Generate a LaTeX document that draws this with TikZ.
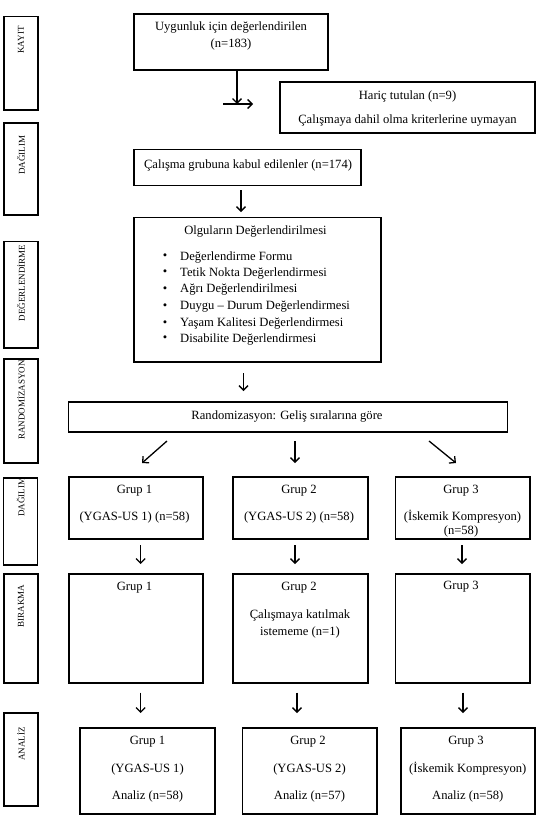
\documentclass[tikz,border=0pt]{standalone}
\usepackage{fontspec}
\setmainfont{Liberation Serif}
\usetikzlibrary{arrows.meta}
\begin{document}
\begin{tikzpicture}[x=1pt,y=-1pt,
  box/.style={draw=black,line width=1.8pt,inner sep=0pt},
  sidebox/.style={draw=black,line width=1.8pt,inner sep=0pt,minimum width=34pt},
  side/.style={rotate=90,font=\fontsize{9}{10}\selectfont,inner sep=0pt},
  txt/.style={font=\fontsize{12.6}{14}\selectfont,inner sep=0pt},
  arr/.style={line width=1.3pt,-{Straight Barb[length=4.5pt,width=9pt]}}]
\useasboundingbox[fill=white] (0,0) rectangle (537,822);

% side boxes
\node[sidebox,minimum height=93.5pt] (sK) at (21,63.25) {};
\node[sidebox,minimum height=92pt] (sD1) at (21,169) {};
\node[sidebox,minimum height=106.5pt] (sDe) at (21,294.75) {};
\node[sidebox,minimum height=104.4pt] (sR) at (21,410.8) {};
\node[sidebox,minimum height=87.4pt] (sD2) at (20.5,521.3) {};
\node[sidebox,minimum height=109pt] (sB) at (21,628.5) {};
\node[sidebox,minimum height=93pt] (sA) at (21,759.5) {};
\node[side] (lK) at (21,40) {KAYIT};
\node[side] (lD1) at (21,155) {DAĞILIM};
\node[side] (lDe) at (21,283) {DEĞERLENDİRME};
\node[side] (lR) at (21,400) {RANDOMİZASYON};
\node[side] (lD2) at (20.5,497) {DAĞILIM};
\node[side] (lB) at (21,606) {BIRAKMA};
\node[side] (lA) at (21,744) {ANALİZ};

% main boxes
\node[box,minimum width=194pt,minimum height=56pt] (b1) at (231,42) {};
\node[txt] (t1a) at (231,27.4) {Uygunluk için değerlendirilen};
\node[txt] (t1b) at (231,44.6) {(n=183)};

\node[box,minimum width=255pt,minimum height=51pt] (ex) at (407.5,107.5) {};
\node[txt] (te1) at (407.5,96) {Hariç tutulan (n=9)};
\node[txt] (te2) at (407.5,120) {Çalışmaya dahil olma kriterlerine uymayan};

\node[box,minimum width=227pt,minimum height=36pt] (acc) at (247.5,167.5) {};
\node[txt] (tacc) at (248,165) {Çalışma grubuna kabul edilenler (n=174)};

\node[box,minimum width=247pt,minimum height=144.5pt] (olg) at (257.5,289.75) {};
\node[txt] (tol) at (255.5,231) {Olguların Değerlendirilmesi};
\foreach \yy/\tt [count=\i] in {257/Değerlendirme Formu,273/Tetik Nokta Değerlendirmesi,289.5/Ağrı Değerlendirilmesi,306.5/Duygu – Durum Değerlendirmesi,323.5/Yaşam Kalitesi Değerlendirmesi,339/Disabilite Değerlendirmesi}{
  \node[txt,anchor=center] (bul\i) at (165,\yy) {•};
  \node[txt,anchor=west] (it\i) at (180,\yy) {\tt};
}

\node[box,minimum width=439pt,minimum height=30pt] (rnd) at (288,417) {};
\node[txt] (trnd) at (287,416) {Randomizasyon: Geliş sıralarına göre};

% group boxes, allocation
\node[box,minimum width=134.4pt,minimum height=62pt] (g1a) at (135.8,508) {};
\node[box,minimum width=135pt,minimum height=62pt] (g2a) at (300.5,508) {};
\node[box,minimum width=134.5pt,minimum height=62pt] (g3a) at (462.75,508) {};
\node[txt] (g1a1) at (134.5,490.6) {Grup 1};
\node[txt] (g1a2) at (134.5,517) {(YGAS-US 1) (n=58)};
\node[txt] (g2a1) at (299,490.6) {Grup 2};
\node[txt] (g2a2) at (299,517) {(YGAS-US 2) (n=58)};
\node[txt] (g3a1) at (461,490.6) {Grup 3};
\node[txt] (g3a2) at (462.5,517) {(İskemik Kompresyon)};
\node[txt] (g3a3) at (461,531) {(n=58)};

% group boxes, dropout
\node[box,minimum width=134.4pt,minimum height=109pt] (g1b) at (135.8,628.5) {};
\node[box,minimum width=135pt,minimum height=109pt] (g2b) at (300.5,628.5) {};
\node[box,minimum width=134.5pt,minimum height=109pt] (g3b) at (462.75,628.5) {};
\node[txt] (g1b1) at (134.5,588) {Grup 1};
\node[txt] (g2b1) at (299,588) {Grup 2};
\node[txt] (g2b2) at (300,615.5) {Çalışmaya katılmak};
\node[txt] (g2b3) at (300,632) {istememe (n=1)};
\node[txt] (g3b1) at (461,587) {Grup 3};

% group boxes, analysis
\node[box,minimum width=135pt,minimum height=86pt] (g1c) at (147.5,771) {};
\node[box,minimum width=134.5pt,minimum height=86pt] (g2c) at (309.75,771) {};
\node[box,minimum width=134.4pt,minimum height=86pt] (g3c) at (467.8,771) {};
\node[txt] (g1c1) at (147.5,741.7) {Grup 1};
\node[txt] (g1c2) at (147.5,769) {(YGAS-US 1)};
\node[txt] (g1c3) at (147.5,796.6) {Analiz (n=58)};
\node[txt] (g2c1) at (308,741.7) {Grup 2};
\node[txt] (g2c2) at (309.5,769) {(YGAS-US 2)};
\node[txt] (g2c3) at (309.5,796.6) {Analiz (n=57)};
\node[txt] (g3c1) at (466,741.7) {Grup 3};
\node[txt] (g3c2) at (467.8,769) {(İskemik Kompresyon)};
\node[txt] (g3c3) at (467.8,796.6) {Analiz (n=58)};

% connectors
\coordinate (k1) at (237,104);
\draw[arr] (b1.south -| k1) -- (k1);
\coordinate (k2s) at (223,104);
\coordinate (k2e) at (253,104);
\draw[arr] (k2s) -- (k2e);

\coordinate (a1s) at (241,190); \coordinate (a1e) at (241,212);
\draw[arr] (a1s) -- (a1e);
\coordinate (a2s) at (243.5,373); \coordinate (a2e) at (243.5,391);
\draw[arr] (a2s) -- (a2e);

\coordinate (r1s) at (167,441); \coordinate (r1e) at (142,463);
\coordinate (r2s) at (295,441); \coordinate (r2e) at (295,463);
\coordinate (r3s) at (429,441); \coordinate (r3e) at (456,463);
\draw[arr] (r1s) -- (r1e);
\draw[arr] (r2s) -- (r2e);
\draw[arr] (r3s) -- (r3e);

\coordinate (d1s) at (140.6,545); \coordinate (d1e) at (140.6,564);
\coordinate (d2s) at (295,545); \coordinate (d2e) at (295,564);
\coordinate (d3s) at (462,545); \coordinate (d3e) at (462,564);
\draw[arr] (d1s) -- (d1e);
\draw[arr] (d2s) -- (d2e);
\draw[arr] (d3s) -- (d3e);

\coordinate (e1s) at (140.6,692.5); \coordinate (e1e) at (140.6,713);
\coordinate (e2s) at (297,692.5); \coordinate (e2e) at (297,713);
\coordinate (e3s) at (463,692.5); \coordinate (e3e) at (463,713);
\draw[arr] (e1s) -- (e1e);
\draw[arr] (e2s) -- (e2e);
\draw[arr] (e3s) -- (e3e);
\end{tikzpicture}
\end{document}
